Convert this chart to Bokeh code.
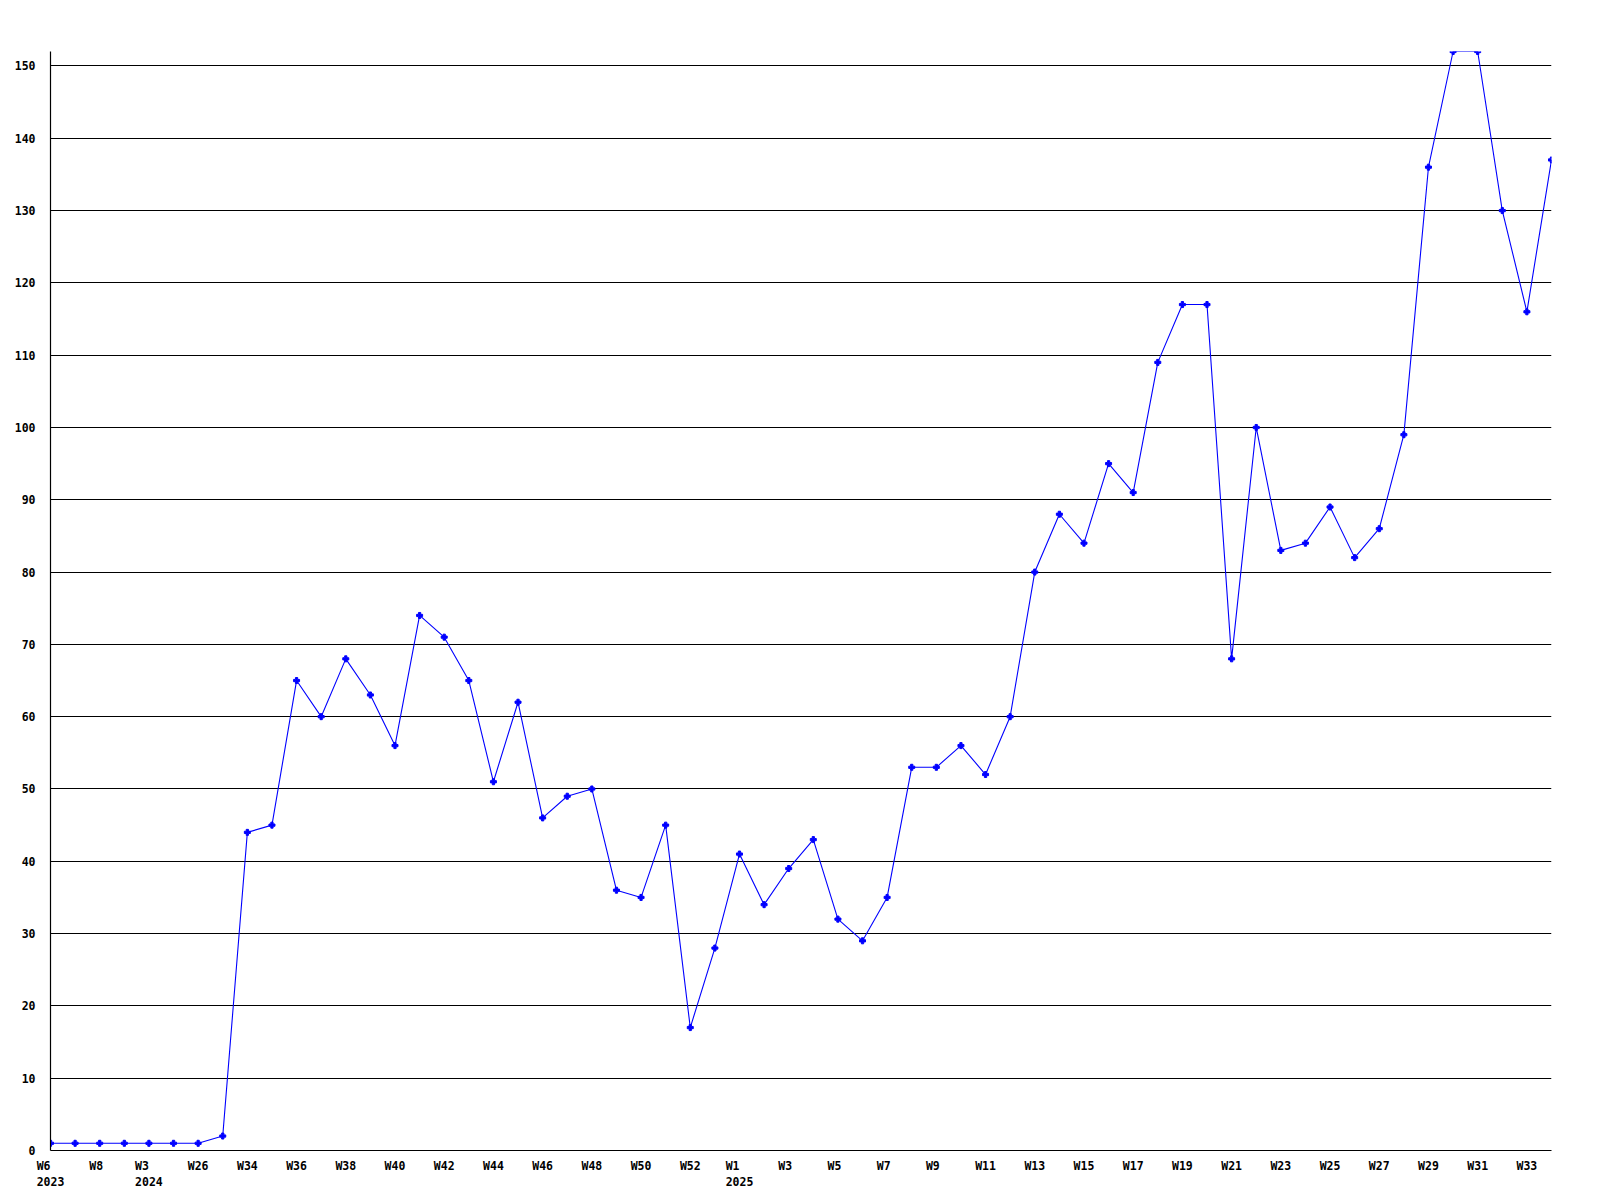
from bokeh.plotting import figure
from bokeh.models import FixedTicker, Range1d
from bokeh.embed import file_html
from bokeh.resources import INLINE

weeks = ["W6 2023", "W7 2023", "W8 2023", "W9 2023", "W3 2024", "W4 2024", "W26 2024", "W33 2024",
         "W34", "W35", "W36", "W37", "W38", "W39", "W40", "W41", "W42", "W43", "W44", "W45",
         "W46", "W47", "W48", "W49", "W50", "W51", "W52", "W53",
         "W1 2025", "W2", "W3", "W4", "W5", "W6", "W7", "W8", "W9", "W10", "W11", "W12",
         "W13", "W14", "W15", "W16", "W17", "W18", "W19", "W20", "W21", "W22", "W23", "W24",
         "W25", "W26", "W27", "W28", "W29", "W30", "W31", "W32", "W33", "W34"]

values = [1, 1, 1, 1, 1, 1, 1, 2, 44, 45, 65, 60, 68, 63, 56, 74, 71, 65, 51, 62,
          46, 49, 50, 36, 35, 45, 17, 28, 41, 34, 39, 43, 32, 29, 35, 53, 53, 56, 52, 60,
          80, 88, 84, 95, 91, 109, 117, 117, 68, 100, 83, 84, 89, 82, 86, 99, 136, 152,
          152, 130, 116, 137]

tick_labels = ["W6\u00a0\u00a0\n2023", "W8\u00a0", "W3\u00a0\u00a0\n2024", "W26", "W34", "W36", "W38", "W40",
               "W42", "W44", "W46", "W48", "W50", "W52", "W1\u00a0\u00a0\n2025", "W3\u00a0", "W5\u00a0", "W7\u00a0",
               "W9\u00a0", "W11", "W13", "W15", "W17", "W19", "W21", "W23", "W25", "W27", "W29",
               "W31", "W33"]

y_ticks = list(range(0, 151, 10))

x = list(range(len(values)))
tick_pos = list(range(0, len(values), 2))

p = figure(width=1592, height=1192, output_backend="svg", toolbar_location=None,
           x_range=Range1d(0, len(values) - 1), y_range=Range1d(0, max(values)),
           min_border_left=50, min_border_right=41, min_border_top=51, min_border_bottom=42)
p.outline_line_color = None
p.background_fill_color = "white"
p.border_fill_color = "white"

p.line(x, values, line_color="#0000ff", line_width=1.1)
p.scatter(x, values, marker="plus", size=6, color="#0000ff")

font = "DejaVu Sans Mono"
for ax in (p.xaxis[0], p.yaxis[0]):
    ax.major_label_text_font = font
    ax.major_label_text_font_style = "bold"
    ax.major_label_text_font_size = "11.5px"
    ax.major_label_text_color = "black"
    ax.major_tick_line_color = None
    ax.minor_tick_line_color = None
    ax.axis_line_color = "black"
    ax.axis_line_width = 1.2

p.xaxis.ticker = FixedTicker(ticks=tick_pos)
p.xaxis.major_label_overrides = {tp: lab for tp, lab in zip(tick_pos, tick_labels)}
p.xaxis.major_label_standoff = 2
p.yaxis.ticker = FixedTicker(ticks=y_ticks)
p.yaxis.major_label_standoff = 9

p.xgrid.grid_line_color = None
p.ygrid.grid_line_color = "black"
p.ygrid.grid_line_width = 1.2

open("out.html", "w").write(file_html(p, INLINE))
